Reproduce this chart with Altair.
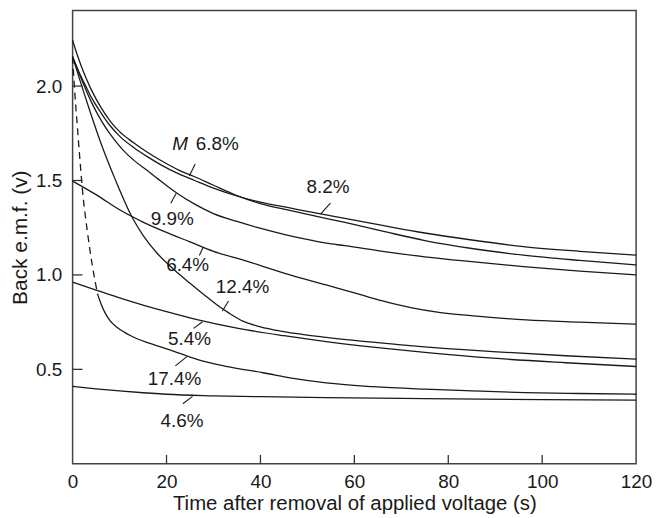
import altair as alt
import pandas as pd

# ---- data (time in s, back e.m.f. in V) ----
t_m68 = [0, 1, 2, 3, 4, 6, 8, 10, 13, 16, 19, 22.6, 26, 30, 35, 40, 46, 52, 58, 66, 75, 85, 96, 108, 120]
v_m68 = [2.243, 2.165, 2.096, 2.035, 1.98, 1.889, 1.815, 1.759, 1.70, 1.648, 1.603, 1.555, 1.52, 1.475, 1.42,
         1.378, 1.343, 1.31, 1.278, 1.232, 1.182, 1.14, 1.105, 1.077, 1.053]

t_82 = [0, 1, 2, 3, 4, 6, 8, 10, 13, 16, 19, 22.6, 26, 30, 35, 40, 46, 52, 58, 66, 75, 85, 96, 108, 120]
v_82 = [2.155, 2.095, 2.04, 1.99, 1.94, 1.86, 1.79, 1.735, 1.675, 1.625, 1.58, 1.535, 1.5, 1.46, 1.418,
        1.385, 1.356, 1.327, 1.299, 1.262, 1.222, 1.185, 1.15, 1.125, 1.105]

t_99 = [0, 1, 2, 4, 6.2, 8, 10.6, 13, 15.9, 18.3, 22.4, 26, 30, 35, 39.5, 45, 50, 54, 58, 66, 75, 85, 96, 108, 120]
v_99 = [2.155, 2.09, 2.03, 1.915, 1.813, 1.745, 1.665, 1.608, 1.553, 1.506, 1.43, 1.375, 1.325, 1.283, 1.25,
        1.215, 1.188, 1.168, 1.155, 1.125, 1.096, 1.07, 1.044, 1.02, 1.0]

t_64 = [0, 5, 10, 15, 20, 25, 30, 36.7, 45, 54, 60, 66, 72, 78, 86, 96.6, 108, 120]
v_64 = [1.497, 1.425, 1.345, 1.28, 1.225, 1.175, 1.125, 1.076, 1.01, 0.947, 0.905, 0.862, 0.827, 0.802,
        0.782, 0.762, 0.75, 0.739]

t_124 = [0, 3, 6, 9, 12.7, 15, 18, 21.5, 25, 28, 30.7, 33.5, 36.4, 40, 45, 54, 70, 89.5, 105, 120]
v_124 = [2.155, 1.92, 1.70, 1.51, 1.304, 1.21, 1.115, 1.03, 0.956, 0.895, 0.842, 0.795, 0.754, 0.725, 0.70,
         0.669, 0.63, 0.594, 0.572, 0.554]

t_54 = [0, 5, 10, 15, 20, 26.5, 35, 45, 54, 65, 75, 89.5, 105, 120]
v_54 = [0.962, 0.92, 0.878, 0.84, 0.805, 0.763, 0.718, 0.678, 0.647, 0.615, 0.59, 0.559, 0.535, 0.515]

t_174_dash = [0, 0.4, 1.0, 1.5, 2.1, 3.2, 4.2, 5.3]
v_174_dash = [2.155, 1.99, 1.79, 1.63, 1.45, 1.22, 1.05, 0.901]

t_174 = [5.3, 6.0, 7.0, 8.0, 9.5, 11, 12.4, 15.5, 19.4, 23, 26.5, 33, 40.6, 47, 54, 64, 75, 85, 96.4, 108, 120]
v_174 = [0.901, 0.85, 0.795, 0.757, 0.722, 0.697, 0.678, 0.645, 0.614, 0.583, 0.553, 0.515, 0.482, 0.452,
         0.428, 0.408, 0.395, 0.386, 0.377, 0.372, 0.368]

t_46 = [0, 5, 10, 15, 20, 30, 40, 54, 75, 100, 120]
v_46 = [0.41, 0.397, 0.386, 0.376, 0.368, 0.36, 0.355, 0.35, 0.345, 0.34, 0.337]

# curve labels (text, t, v)
label_text = ["6.8%", "8.2%", "9.9%", "6.4%", "12.4%", "5.4%", "17.4%", "4.6%"]
label_t = [30.8, 54.4, 21.2, 24.5, 36.2, 24.9, 21.7, 23.3]
label_v = [1.692, 1.468, 1.296, 1.05, 0.936, 0.658, 0.449, 0.225]
italic_text = ["M"]
italic_t = [22.9]
italic_v = [1.692]

# leader lines (t1, v1, t2, v2)
lead_t1 = [26.1, 54.9, 22.05, 27.8, 33.2, 27.66, 24.34, 25.54]
lead_v1 = [1.588, 1.38, 1.431, 1.147, 0.862, 0.752, 0.567, 0.357]
lead_t2 = [24.85, 52.8, 20.9, 27.0, 31.9, 25.76, 21.88, 23.49]
lead_v2 = [1.524, 1.322, 1.38, 1.103, 0.809, 0.717, 0.518, 0.318]

x_ticks = [0, 20, 40, 60, 80, 100, 120]
y_ticks = [0.5, 1.0, 1.5, 2.0]
x_inner_ticks = [20, 40, 60, 80, 100]
x_tick_len = 0.047   # in volts
y_tick_len = 2.1     # in seconds

# ---- build tables ----
rows = []
for name, ts, vs in [("M6.8", t_m68, v_m68), ("8.2", t_82, v_82), ("9.9", t_99, v_99),
                     ("6.4", t_64, v_64), ("12.4", t_124, v_124), ("5.4", t_54, v_54),
                     ("17.4", t_174, v_174), ("4.6", t_46, v_46)]:
    for i, (t, v) in enumerate(zip(ts, vs)):
        rows.append({"curve": name, "t": t, "v": v, "o": i})
solid = pd.DataFrame(rows)
dashed = pd.DataFrame({"t": t_174_dash, "v": v_174_dash, "o": list(range(len(t_174_dash)))})
labels = pd.DataFrame({"text": label_text, "t": label_t, "v": label_v})
italics = pd.DataFrame({"text": italic_text, "t": italic_t, "v": italic_v})
leaders = pd.DataFrame({"t1": lead_t1, "v1": lead_v1, "t2": lead_t2, "v2": lead_v2})
xt = pd.DataFrame({"t": x_inner_ticks, "v0": [0.0] * len(x_inner_ticks),
                   "v1": [x_tick_len] * len(x_inner_ticks)})
yt = pd.DataFrame({"v": y_ticks, "t0": [0.0] * len(y_ticks), "t1": [y_tick_len] * len(y_ticks)})

FONT = "Liberation Sans"
INK = "#1a1a1a"

xscale = alt.Scale(domain=[0, 120], nice=False, zero=False)
yscale = alt.Scale(domain=[0, 2.4], nice=False, zero=False)

xaxis = alt.Axis(values=x_ticks, format="d", title="Time after removal of applied voltage (s)",
                 ticks=False, tickSize=0, domain=False, grid=False, labelFlush=False,
                 labelPadding=9, titlePadding=2, labelFontSize=19, titleFontSize=20.5,
                 labelFont=FONT, titleFont=FONT, labelColor=INK, titleColor=INK,
                 titleFontWeight="normal")
yaxis = alt.Axis(values=y_ticks, format=".1f", title="Back e.m.f. (v)",
                 ticks=False, tickSize=0, domain=False, grid=False, labelFlush=False,
                 labelPadding=11, titlePadding=5, labelFontSize=19, titleFontSize=21,
                 labelFont=FONT, titleFont=FONT, labelColor=INK, titleColor=INK,
                 titleFontWeight="normal")

lines = alt.Chart(solid).mark_line(interpolate="monotone", color=INK, strokeWidth=1.3).encode(
    x=alt.X("t:Q", scale=xscale, axis=xaxis),
    y=alt.Y("v:Q", scale=yscale, axis=yaxis),
    detail="curve:N",
    order="o:Q",
)
dash = alt.Chart(dashed).mark_line(interpolate="monotone", color=INK, strokeWidth=1.3,
                                   strokeDash=[7, 5]).encode(
    x=alt.X("t:Q", scale=xscale), y=alt.Y("v:Q", scale=yscale), order="o:Q")

txt = alt.Chart(labels).mark_text(font=FONT, fontSize=19, color=INK, align="center",
                                  baseline="middle").encode(
    x=alt.X("t:Q", scale=xscale), y=alt.Y("v:Q", scale=yscale), text="text:N")
itx = alt.Chart(italics).mark_text(font=FONT, fontSize=19, color=INK, align="center",
                                   baseline="middle", fontStyle="italic").encode(
    x=alt.X("t:Q", scale=xscale), y=alt.Y("v:Q", scale=yscale), text="text:N")

lead = alt.Chart(leaders).mark_rule(color=INK, strokeWidth=1.1).encode(
    x=alt.X("t1:Q", scale=xscale), y=alt.Y("v1:Q", scale=yscale), x2="t2:Q", y2="v2:Q")

xtk = alt.Chart(xt).mark_rule(color="#333", strokeWidth=1.3).encode(
    x=alt.X("t:Q", scale=xscale), y=alt.Y("v0:Q", scale=yscale), y2="v1:Q")
ytk = alt.Chart(yt).mark_rule(color="#333", strokeWidth=1.3).encode(
    y=alt.Y("v:Q", scale=yscale), x=alt.X("t0:Q", scale=xscale), x2="t1:Q")

chart = alt.layer(lines, dash, lead, txt, itx, xtk, ytk).properties(
    width=567, height=456,
    padding={"left": 65, "top": 1, "right": 17, "bottom": 53},
    autosize=alt.AutoSizeParams(type="none"),
    background="white",
).configure_view(stroke="#444", strokeWidth=1.5)

chart.save("out.html", embed_options={"renderer": "svg", "actions": False})
